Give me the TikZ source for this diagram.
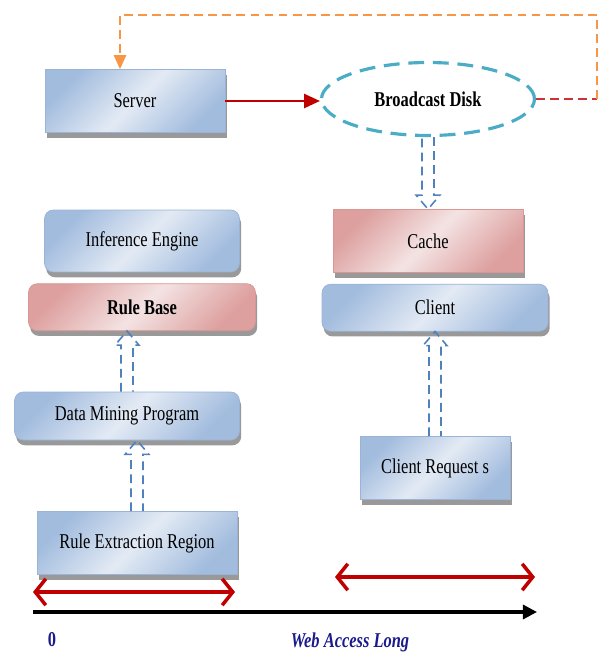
\documentclass[tikz,border=0pt]{standalone}
\usepackage{fontspec}
\setmainfont{Liberation Serif}[FakeStretch=0.78]
\usetikzlibrary{
  arrows.meta,
  positioning,
  shapes.geometric,
  calc,
  shadows,
}
\definecolor{bxdark}{HTML}{A2BCDE}
\definecolor{bxlight}{HTML}{E3EAF4}
\definecolor{bxedge}{HTML}{9AB3D6}
\definecolor{rddark}{HTML}{DDA09F}
\definecolor{rdlight}{HTML}{F4E3E3}
\definecolor{rdedge}{HTML}{D99694}
\definecolor{diskcyan}{HTML}{4BACC6}
\definecolor{flowblue}{HTML}{4F81BD}
\definecolor{sendred}{HTML}{C00000}
\definecolor{feedorange}{HTML}{F79646}
\definecolor{axisnavy}{HTML}{1A1A8C}

% hollow dashed arrow from #1 (tail) to #2 (tip)
\newcommand{\hollowarrow}[2]{%
  \coordinate (hb) at ($(#2)!8pt!(#1)$);
  \draw[hollow] ($(#1)!3.4pt!90:(#2)$) -- ($(hb)!3.4pt!90:(#2)$)
    -- ($(hb)!6.8pt!90:(#2)$) -- (#2) -- ($(hb)!6.8pt!-90:(#2)$)
    -- ($(hb)!3.4pt!-90:(#2)$) -- ($(#1)!3.4pt!-90:(#2)$);
}

\begin{document}
\begin{tikzpicture}[
  x=0.02cm, y=-0.02cm,
  box/.style={rectangle, draw, font=\fontsize{12}{14}\selectfont, align=center, inner sep=2pt,
    drop shadow={shadow xshift=1pt, shadow yshift=-3pt, fill=black!40, opacity=1}},
  bluebox/.style={box, draw=bxedge, top color=bxdark, bottom color=bxdark, middle color=bxlight, shading angle=45},
  redbox/.style={box, draw=rdedge, top color=rddark, bottom color=rddark, middle color=rdlight, shading angle=45},
  soft/.style={rounded corners=5pt},
  disk/.style={ellipse, draw=diskcyan, line width=1.8pt, dash pattern=on 9pt off 5pt, fill=white,
    font=\bfseries\fontsize{12}{14}\selectfont, minimum width=4.26cm, minimum height=1.46cm},
  hollow/.style={draw=flowblue, line width=0.9pt, dash pattern=on 5pt off 3pt},
  send/.style={-{Triangle[length=9pt, width=8pt]}, line width=1.2pt, color=sendred},
  feed/.style={line width=1.1pt, dash pattern=on 5pt off 3pt, color=feedorange},
  span/.style={{Straight Barb[length=6pt, width=15pt]}-{Straight Barb[length=6pt, width=15pt]}, line width=2pt, color=sendred},
  axis/.style={-{Triangle[length=8pt, width=8pt]}, line width=1.8pt, color=black},
  tag/.style={font=\bfseries\fontsize{12}{14}\selectfont, color=axisnavy},
]
  \useasboundingbox (0,0) rectangle (600,653);

  % Top row
  \node[bluebox, minimum width=3.6cm, minimum height=1.26cm] (server) at (135,101) {Server};
  \node[disk] (bdisk) at (428,99) {Broadcast Disk};

  % Rule side
  \node[bluebox, soft, minimum width=3.9cm, minimum height=1.24cm] (engine) at (142,241) {Inference Engine};
  \node[redbox, soft, minimum width=4.54cm, minimum height=0.94cm, below=0.22cm of engine] (rulebase) {\textbf{Rule Base}};
  \node[bluebox, soft, minimum width=4.5cm, minimum height=0.96cm] (mining) at (127,416) {Data Mining Program};
  \node[bluebox, minimum width=4.0cm, minimum height=1.26cm] (extract) at (137,543) {Rule Extraction Region};

  % Client side
  \node[redbox, minimum width=3.8cm, minimum height=1.26cm] (cache) at (428,241) {Cache};
  \node[bluebox, soft, minimum width=4.52cm, minimum height=0.94cm, below=0.22cm of cache, xshift=0.14cm] (client) {Client};
  \node[bluebox, minimum width=3.0cm, minimum height=1.26cm] (request) at (435,468) {Client Request s};

  % Broadcast and feedback
  \draw[send] (server.east) -- (server.east -| bdisk.west);
  \coordinate (feedtop) at (597,15);
  \coordinate (feedright) at (bdisk.east -| feedtop);
  \coordinate (feedland) at ($(server.north)+(-15,0)$);
  \draw[feed, color=sendred!80] (bdisk.east) -- (feedright);
  \draw[feed, -{Triangle[length=8pt, width=7pt]}] (feedright) -- (feedtop) -| (feedland);

  % Hollow arrows
  \coordinate (cachein) at (bdisk.south |- cache.north);
  \coordinate (rulein) at (mining.north |- rulebase.south);
  \coordinate (minein) at (extract.north |- mining.south);
  \coordinate (clientin) at (request.north |- client.south);
  \hollowarrow{bdisk.south}{cachein}
  \hollowarrow{mining.north}{rulein}
  \hollowarrow{extract.north}{minein}
  \hollowarrow{request.north}{clientin}

  % Spans and axis
  \coordinate (lspanl) at (33,592);
  \coordinate (lspanr) at (235,592);
  \coordinate (rspanl) at (335,577);
  \coordinate (rspanr) at (535,577);
  \coordinate (axstart) at (33,612);
  \coordinate (axend) at (537,612);
  \draw[span] (lspanl) -- (lspanr);
  \draw[span] (rspanl) -- (rspanr);
  \draw[axis] (axstart) -- (axend);

  \node[tag] (zero) at (52,640) {0};
  \node[tag, font=\bfseries\itshape\fontsize{12}{14}\selectfont] (axlabel) at (350,642) {Web Access Long};

\end{tikzpicture}
\end{document}
